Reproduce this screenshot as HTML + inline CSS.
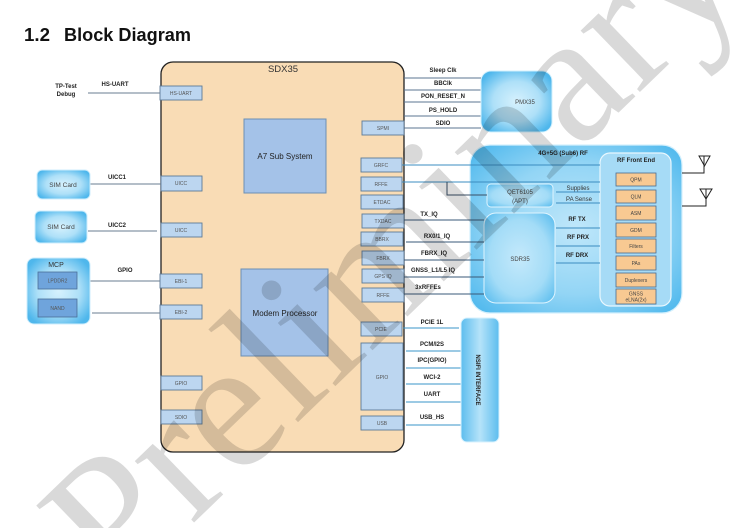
<!DOCTYPE html>
<html><head><meta charset="utf-8"><style>
html,body{margin:0;padding:0;background:#fff;width:741px;height:528px;overflow:hidden}
svg{display:block}
text{font-family:"Liberation Sans",sans-serif}
.lb{font-size:6px;font-weight:bold;fill:#222;text-anchor:middle}
.pt{font-size:5px;fill:#555;text-anchor:middle}
.ob{font-size:5px;fill:#444;text-anchor:middle}
</style></head><body>
<svg width="741" height="528" viewBox="0 0 741 528" xmlns="http://www.w3.org/2000/svg">
<defs>
<radialGradient id="g1" cx="50%" cy="50%" r="60%">
<stop offset="0%" stop-color="#d6f1fd"/><stop offset="55%" stop-color="#aee0f8"/><stop offset="100%" stop-color="#4fb7ec"/>
</radialGradient>
<radialGradient id="g2" cx="50%" cy="50%" r="65%">
<stop offset="0%" stop-color="#bfe7fa"/><stop offset="60%" stop-color="#93d5f5"/><stop offset="100%" stop-color="#55bbee"/>
</radialGradient>
<radialGradient id="g3" cx="50%" cy="50%" r="65%">
<stop offset="0%" stop-color="#c4e9fb"/><stop offset="65%" stop-color="#a3dcf7"/><stop offset="100%" stop-color="#62c0ef"/>
</radialGradient>
<linearGradient id="g4" x1="0" y1="0" x2="1" y2="0">
<stop offset="0%" stop-color="#5dbdee"/><stop offset="50%" stop-color="#b5e3f9"/><stop offset="100%" stop-color="#5dbdee"/>
</linearGradient>
<clipPath id="frame"><rect x="0" y="0" width="741" height="528"/></clipPath>
</defs>

<!-- Title -->
<text x="24" y="41" font-size="18" font-weight="bold" fill="#111" textLength="26" lengthAdjust="spacingAndGlyphs">1.2</text>
<text x="64" y="41" font-size="18" font-weight="bold" fill="#111" textLength="127" lengthAdjust="spacingAndGlyphs">Block Diagram</text>

<!-- SDX35 main -->
<rect x="161" y="62" width="243" height="390" rx="12" fill="#f9dcb5" stroke="#222" stroke-width="1.3"/>
<text x="283" y="72" font-size="9.5" fill="#333" text-anchor="middle">SDX35</text>

<rect x="244" y="119" width="82" height="74" fill="#a4c2e8" stroke="#6d8fb3" stroke-width="1"/>
<text x="285" y="159" font-size="8" fill="#222" text-anchor="middle">A7 Sub System</text>
<rect x="241" y="269" width="87" height="87" fill="#a4c2e8" stroke="#6d8fb3" stroke-width="1"/>
<text x="285" y="316" font-size="8" fill="#222" text-anchor="middle">Modem Processor</text>

<!-- left ports -->
<g fill="#bcd6f0" stroke="#5d7a96" stroke-width="0.9">
<rect x="160" y="86" width="42" height="14"/>
<rect x="161" y="176" width="41" height="15"/>
<rect x="161" y="223" width="41" height="14"/>
<rect x="160" y="274" width="42" height="14"/>
<rect x="160" y="305" width="42" height="14"/>
<rect x="161" y="376" width="41" height="14"/>
<rect x="161" y="410" width="41" height="14"/>
</g>
<text class="pt" x="181" y="95">HS-UART</text>
<text class="pt" x="181" y="185">UICC</text>
<text class="pt" x="181" y="232">UICC</text>
<text class="pt" x="181" y="283">EBI-1</text>
<text class="pt" x="181" y="314">EBI-2</text>
<text class="pt" x="181" y="385">GPIO</text>
<text class="pt" x="181" y="419">SDIO</text>

<!-- right ports -->
<g fill="#bcd6f0" stroke="#5d7a96" stroke-width="0.9">
<rect x="362" y="121" width="42" height="14"/>
<rect x="361" y="158" width="41" height="14"/>
<rect x="361" y="177" width="41" height="14"/>
<rect x="361" y="195" width="42" height="14"/>
<rect x="362" y="214" width="42" height="14"/>
<rect x="361" y="232" width="42" height="14"/>
<rect x="362" y="251" width="42" height="14"/>
<rect x="362" y="269" width="42" height="14"/>
<rect x="362" y="288" width="42" height="14"/>
<rect x="361" y="322" width="41" height="14"/>
<rect x="361" y="343" width="42" height="67"/>
<rect x="361" y="416" width="42" height="14"/>
</g>
<text class="pt" x="383" y="130">SPMI</text>
<text class="pt" x="381" y="167">GRFC</text>
<text class="pt" x="381" y="186">RFFE</text>
<text class="pt" x="382" y="204">ETDAC</text>
<text class="pt" x="383" y="223">TXDAC</text>
<text class="pt" x="382" y="241">BBRX</text>
<text class="pt" x="383" y="260">FBRX</text>
<text class="pt" x="383" y="278">GPS IQ</text>
<text class="pt" x="383" y="297">RFFE</text>
<text class="pt" x="381" y="331">PCIE</text>
<text class="pt" x="382" y="379">GPIO</text>
<text class="pt" x="382" y="425">USB</text>

<!-- left externals -->
<g stroke="#6a7d90" stroke-width="1">
<line x1="88" y1="93" x2="160" y2="93"/>
<line x1="90" y1="184" x2="161" y2="184"/>
<line x1="88" y1="231" x2="157" y2="231"/>
<line x1="90" y1="281" x2="160" y2="281"/>
<line x1="92" y1="313" x2="160" y2="313"/>
</g>
<text class="lb" x="66" y="88">TP-Test</text>
<text class="lb" x="66" y="96">Debug</text>
<text class="lb" x="115" y="86">HS-UART</text>
<text class="lb" x="117" y="179">UICC1</text>
<text class="lb" x="117" y="227">UICC2</text>
<text class="lb" x="125" y="272">GPIO</text>

<rect x="37" y="170" width="53" height="29" rx="5" fill="url(#g1)" stroke="#cfeefc" stroke-width="1"/>
<text x="63" y="187" font-size="6.5" fill="#444" text-anchor="middle">SIM Card</text>
<rect x="35" y="211" width="52" height="32" rx="5" fill="url(#g1)" stroke="#cfeefc" stroke-width="1"/>
<text x="61" y="229" font-size="6.5" fill="#444" text-anchor="middle">SIM Card</text>
<rect x="27" y="258" width="63" height="66" rx="7" fill="url(#g1)" stroke="#cfeefc" stroke-width="1"/>
<text x="56" y="267" font-size="7" fill="#333" text-anchor="middle">MCP</text>
<rect x="38" y="272" width="39" height="17" fill="#6fa4dc" stroke="#4a6f98" stroke-width="0.8"/>
<text class="pt" x="57.5" y="282.5">LPDDR2</text>
<rect x="38" y="299" width="39" height="18" fill="#6fa4dc" stroke="#4a6f98" stroke-width="0.8"/>
<text class="pt" x="57.5" y="310">NAND</text>

<!-- PMX35 -->
<g stroke="#5b7590" stroke-width="1">
<line x1="404" y1="78" x2="481" y2="78"/>
<line x1="404" y1="90" x2="481" y2="90"/>
<line x1="404" y1="102" x2="481" y2="102"/>
<line x1="404" y1="116" x2="481" y2="116"/>
<line x1="404" y1="128" x2="481" y2="128"/>
</g>
<text class="lb" x="443" y="72">Sleep Clk</text>
<text class="lb" x="443" y="85">BBClk</text>
<text class="lb" x="443" y="98">PON_RESET_N</text>
<text class="lb" x="443" y="112">PS_HOLD</text>
<text class="lb" x="443" y="125">SDIO</text>
<rect x="481" y="71" width="71" height="61" rx="10" fill="url(#g1)" stroke="#d2f0fd" stroke-width="1"/>
<text x="525" y="104" font-size="6" fill="#444" text-anchor="middle">PMX35</text>

<!-- RF big box -->
<rect x="470" y="145" width="212" height="168" rx="20" fill="url(#g2)" stroke="#d4f0fd" stroke-width="1.2"/>
<text class="lb" x="563" y="155">4G+5G (Sub6) RF</text>

<rect x="600" y="153" width="71" height="153" rx="10" fill="#a6dbf6" stroke="#e8f7fe" stroke-width="1.2"/>
<text class="lb" x="636" y="162">RF Front End</text>
<g fill="#f8c992" stroke="#4a6c8f" stroke-width="0.8">
<rect x="616" y="173" width="40" height="13"/>
<rect x="616" y="190" width="40" height="13"/>
<rect x="616" y="206" width="40" height="14"/>
<rect x="616" y="223" width="40" height="14"/>
<rect x="616" y="239" width="40" height="14"/>
<rect x="616" y="256" width="40" height="14"/>
<rect x="616" y="273" width="40" height="14"/>
<rect x="616" y="289" width="40" height="15"/>
</g>
<text class="ob" x="636" y="181.5">QPM</text>
<text class="ob" x="636" y="198.5">QLM</text>
<text class="ob" x="636" y="215">ASM</text>
<text class="ob" x="636" y="232">GDM</text>
<text class="ob" x="636" y="248">Filters</text>
<text class="ob" x="636" y="265">PAs</text>
<text class="ob" x="636" y="282">Duplexers</text>
<text class="ob" x="636" y="295.5">GNSS</text>
<text class="ob" x="636" y="301.5">eLNA(2x)</text>

<rect x="487" y="184" width="66" height="23" rx="4" fill="url(#g3)" stroke="#dff4fe" stroke-width="1"/>
<text x="520" y="194" font-size="6" fill="#444" text-anchor="middle">QET6105</text>
<text x="520" y="203" font-size="6" fill="#444" text-anchor="middle">(APT)</text>

<rect x="484" y="213" width="71" height="90" rx="12" fill="url(#g3)" stroke="#dff4fe" stroke-width="1"/>
<text x="520" y="261" font-size="6" fill="#444" text-anchor="middle">SDR35</text>

<!-- RF lines -->
<g stroke="#3b8cc0" stroke-width="1" fill="none">
<line x1="402" y1="165" x2="600" y2="165"/>
<line x1="402" y1="182" x2="600" y2="182"/>
<polyline points="447,182 447,195 487,195" stroke="#3a4f66"/>
<line x1="556" y1="192" x2="600" y2="192"/>
<line x1="556" y1="203" x2="600" y2="203"/>
<line x1="556" y1="228" x2="600" y2="228"/>
<line x1="556" y1="246" x2="600" y2="246"/>
<line x1="556" y1="263" x2="600" y2="263"/>
</g>
<text x="578" y="190" font-size="6" fill="#333" text-anchor="middle">Supplies</text>
<text x="579" y="201" font-size="6" fill="#333" text-anchor="middle">PA Sense</text>
<text class="lb" x="577" y="221">RF TX</text>
<text class="lb" x="578" y="239">RF PRX</text>
<text class="lb" x="577" y="257">RF DRX</text>

<g stroke="#3a5a78" stroke-width="1">
<line x1="404" y1="220" x2="484" y2="220"/>
<line x1="406" y1="242" x2="484" y2="242"/>
<line x1="404" y1="260" x2="484" y2="260"/>
<line x1="404" y1="277" x2="484" y2="277"/>
<line x1="404" y1="294" x2="484" y2="294"/>
</g>
<text class="lb" x="429" y="216">TX_IQ</text>
<text class="lb" x="437" y="238">RX0/1_IQ</text>
<text class="lb" x="434" y="255">FBRX_IQ</text>
<text class="lb" x="433" y="272">GNSS_L1/L5 IQ</text>
<text class="lb" x="428" y="289">3xRFFEs</text>

<!-- antennas -->
<g stroke="#222" stroke-width="1" fill="none">
<polyline points="682,173 704,173 704,156"/>
<polygon points="699,156 710,156 704.5,166"/>
<polyline points="682,206 706,206 706,189"/>
<polygon points="700,189 712,189 706,199"/>
</g>

<!-- NSIFI -->
<g stroke="#3a96c8" stroke-width="1">
<line x1="403" y1="328" x2="459" y2="328"/>
<line x1="406" y1="351" x2="461" y2="351"/>
<line x1="406" y1="368" x2="461" y2="368"/>
<line x1="406" y1="384" x2="461" y2="384"/>
<line x1="406" y1="402" x2="461" y2="402"/>
<line x1="406" y1="425" x2="461" y2="425"/>
</g>
<text class="lb" x="432" y="324">PCIE 1L</text>
<text class="lb" x="432" y="346">PCM/I2S</text>
<text class="lb" x="432" y="362">IPC(GPIO)</text>
<text class="lb" x="432" y="379">WCI-2</text>
<text class="lb" x="432" y="396">UART</text>
<text class="lb" x="432" y="419">USB_HS</text>
<rect x="461" y="318" width="38" height="124" rx="6" fill="url(#g4)" stroke="#d9f2fe" stroke-width="1"/>
<text class="lb" transform="translate(478,380) rotate(90)" x="0" y="2">NSIFI INTERFACE</text>

<!-- watermark -->
<g clip-path="url(#frame)">
<text transform="translate(117,597) rotate(-44)" x="0" y="0" style="font-family:'Liberation Serif',serif;font-size:186px;font-weight:normal" fill="#000" fill-opacity="0.15">Preliminary</text>
</g>
</svg>
</body></html>
